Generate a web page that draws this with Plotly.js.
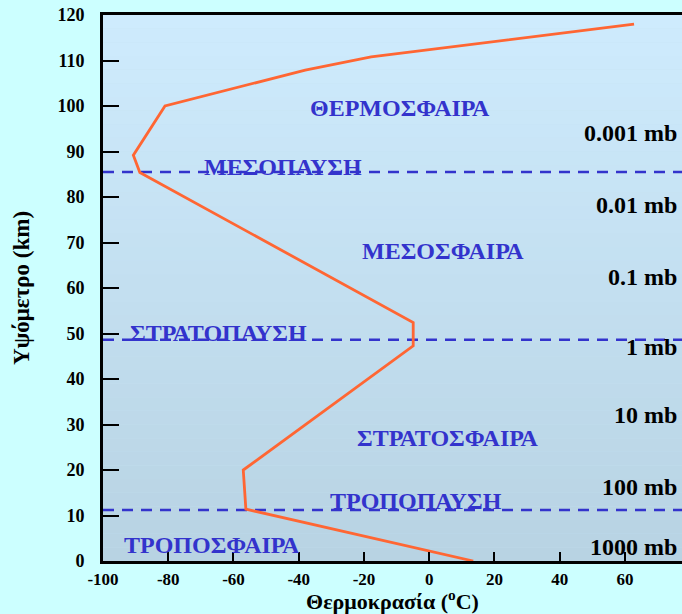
<!DOCTYPE html>
<html><head><meta charset="utf-8">
<script src="https://cdn.plot.ly/plotly-3.0.1.min.js"></script>
<style>html,body{margin:0;padding:0;background:#ccffff;}</style>
</head><body>
<div id="chart" style="width:682px;height:614px;"></div>
<script>
// Temperature profile (°C) vs altitude (km)
const temperature = [13.5, -56.2, -57.0, -4.9, -4.9, -88.7, -90.7, -81.0, -38.0, -17.8, 62.8];
const altitude    = [0, 11.4, 20.0, 47.3, 52.4, 85.4, 89.2, 100, 107.9, 110.8, 118.0];

// Boundary layers (km)
const boundaryNames = ['ΤΡΟΠΟΠΑΥΣΗ', 'ΣΤΡΑΤΟΠΑΥΣΗ', 'ΜΕΣΟΠΑΥΣΗ'];
const boundaryAlt = [11.2, 48.6, 85.5];

// Layer names
const layerNames = ['ΤΡΟΠΟΣΦΑΙΡΑ', 'ΣΤΡΑΤΟΣΦΑΙΡΑ', 'ΜΕΣΟΣΦΑΙΡΑ', 'ΘΕΡΜΟΣΦΑΙΡΑ'];

// Pressure labels
const pressureLabels = ['1000 mb', '100 mb', '10 mb', '1 mb', '0.1 mb', '0.01 mb', '0.001 mb'];

const xTicks = [-100, -80, -60, -40, -20, 0, 20, 40, 60];
const xTickText = ['-100', '-80', '-60', '-40', '-20', '0', '20', '40', '60'];
const yTicks = [0, 10, 20, 30, 40, 50, 60, 70, 80, 90, 100, 110, 120];

const XR = [-100, 77.5];
const FONT = 'Liberation Serif, Times New Roman, serif';
const BLUE = '#3333cc';

const traces = [];
boundaryAlt.forEach(a => {
  traces.push({x: XR, y: [a, a], mode: 'lines', hoverinfo: 'skip', showlegend: false,
    line: {color: BLUE, width: 2.5, dash: '11px,8px'}});
});
traces.push({x: temperature, y: altitude, mode: 'lines', showlegend: false,
  line: {color: '#ff6633', width: 2.8}});

// gradient background bands
const shapes = [];
const N = 40;
const gTop = [0xce, 0xeb, 0xfd], gBot = [0xb8, 0xd3, 0xe3];
for (let i = 0; i < N; i++) {
  const t = i / (N - 1);
  const c = gTop.map((v, k) => Math.round(v + (gBot[k] - v) * t));
  shapes.push({type: 'rect', xref: 'paper', yref: 'paper', x0: 0, x1: 1,
    y0: 1 - (i + 1) / N, y1: 1 - i / N, line: {width: 0},
    fillcolor: 'rgb(' + c.join(',') + ')', layer: 'below'});
}

// annotation positions
const layerPos = [[-66.5, 3.5], [5.5, 27.0], [4.3, 68.1], [-8.9, 99.6]];
const boundaryPos = [[-4.0, 13.2], [-64.5, 50.1], [-44.8, 86.6]];
const pressureY = [3.1, 16.3, 32.1, 47.0, 62.4, 78.2, 94.1];

const annotations = [];
layerNames.forEach((n, i) => annotations.push({x: layerPos[i][0], y: layerPos[i][1], text: n,
  showarrow: false, font: {family: FONT, size: 24, color: BLUE, weight: 'bold'}}));
boundaryNames.forEach((n, i) => annotations.push({x: boundaryPos[i][0], y: boundaryPos[i][1], text: n,
  showarrow: false, font: {family: FONT, size: 24, color: BLUE, weight: 'bold'}}));
pressureLabels.forEach((n, i) => annotations.push({x: 76.6, y: pressureY[i], text: n, xanchor: 'right',
  showarrow: false, font: {family: FONT, size: 24, color: '#000', weight: 'bold'}}));

const layout = {
  width: 682, height: 614,
  margin: {l: 103, r: 0, t: 15, b: 53},
  paper_bgcolor: '#ccffff', plot_bgcolor: '#c4e0f1',
  showlegend: false,
  xaxis: {range: XR, tickvals: xTicks, ticktext: xTickText, ticks: 'inside', ticklen: 9, tickwidth: 2, tickcolor: '#000',
    showline: true, linewidth: 3, linecolor: '#000', mirror: true, showgrid: false, zeroline: false,
    ticklabelstandoff: 1,
    tickfont: {family: FONT, size: 17, color: '#000', weight: 'bold'},
    title: {text: 'Θερμοκρασία (<sup>o</sup>C)', standoff: 6, font: {family: FONT, size: 22, color: '#000', weight: 'bold'}}},
  yaxis: {range: [0, 120], tickvals: yTicks, ticks: 'inside', ticklen: 16, tickwidth: 2, tickcolor: '#000',
    showline: true, linewidth: 3, linecolor: '#000', showgrid: false, zeroline: false,
    ticklabelstandoff: 12,
    tickfont: {family: FONT, size: 18, color: '#000', weight: 'bold'},
    title: {text: 'Υψόμετρο (km)', standoff: 22, font: {family: FONT, size: 23, color: '#000', weight: 'bold'}}},
  shapes: shapes,
  annotations: annotations
};

Plotly.newPlot('chart', traces, layout, {displayModeBar: false, staticPlot: true});
</script>
</body></html>
